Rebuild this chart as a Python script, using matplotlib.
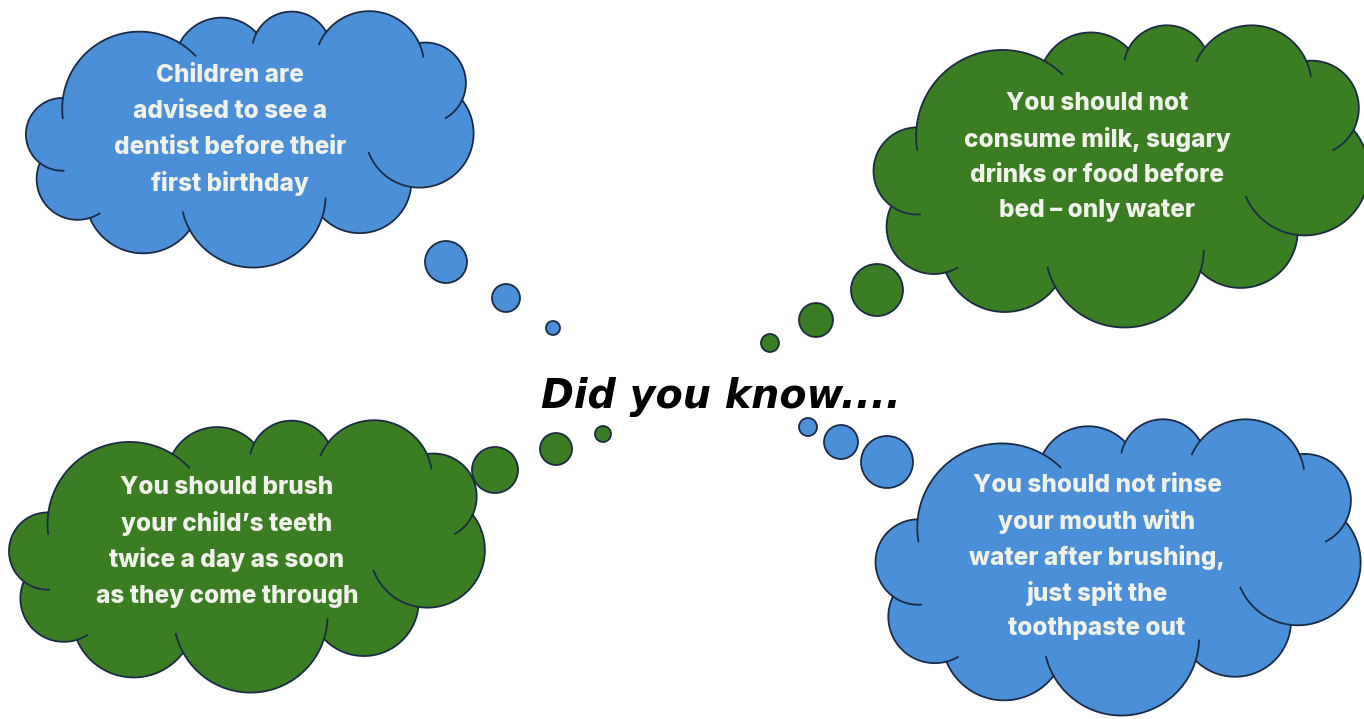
import numpy as np
import matplotlib
matplotlib.use("Agg")
import matplotlib.pyplot as plt
from matplotlib.patches import Polygon, Circle

W, H = 1364, 719

blue = "#4a8fd8"
green = "#3a7d23"
edge = "#1b2b45"
text_col = "#f2f2ec"

# clouds (pixel box centre and half sizes)
cloud_x = [247, 1118, 244, 1115]
cloud_y = [139, 177, 556, 568]
cloud_hw = [222, 243, 236, 238]
cloud_hh = [129, 156, 137, 153]
cloud_colors = [blue, green, green, blue]
cloud_texts = [
    ["Children are", "advised to see a", "dentist before their", "first birthday"],
    ["You should not", "consume milk, sugary", "drinks or food before", "bed \u2013 only water"],
    ["You should brush", "your child\u2019s teeth", "twice a day as soon", "as they come through"],
    ["You should not rinse", "your mouth with", "water after brushing,", "just spit the", "toothpaste out"],
]
text_x = [230, 1097, 227, 1097]
text_y = [129, 157, 542, 557]
line_gap = 36

# thought bubbles
bubble_x = [446, 506, 553, 877, 816, 770, 495, 556, 603, 887, 841, 808]
bubble_y = [262, 298, 328, 290, 320, 343, 470, 449, 434, 462, 442, 427]
bubble_r = [21, 14, 7, 26, 17, 9, 23, 16, 8, 26, 17, 9]
bubble_colors = [blue] * 3 + [green] * 3 + [green] * 3 + [blue] * 3

title = "Did you know...."

# cloud outline template: cusp points (relative to box) and bulge of each bump
cusp_u = [-0.829, -0.303, 0.043, 0.357, 0.775, 0.969, 0.739, 0.339, -0.258, -0.708, -0.933]
cusp_v = [-0.318, -0.744, -0.822, -0.829, -0.744, -0.302, 0.372, 0.605, 0.705, 0.612, 0.186]
bulge = [0.27, 0.26, 0.30, 0.28, 0.30, 0.34, 0.32, 0.33, 0.29, 0.32, 0.36]
ext_start = [15, 0, 15, 15, 0, 0, 0, 15, 0, 15, 40]
ext_end = [15, 0, 0, 15, 35, 60, 0, 15, 0, 0, 0]


def bump_arc(p0, p1, k, centre, e0, e1, n=40):
    m = (p0 + p1) / 2
    d = p1 - p0
    c = np.hypot(d[0], d[1])
    nrm = np.array([-d[1], d[0]]) / c
    if np.dot(nrm, m - centre) < 0:
        nrm = -nrm
    s = k * c
    R = (c * c / 4 + s * s) / (2 * s)
    cc = m + nrm * (s - R)
    a0 = np.arctan2(p0[1] - cc[1], p0[0] - cc[0])
    a1 = np.arctan2(p1[1] - cc[1], p1[0] - cc[0])
    am = np.arctan2(nrm[1], nrm[0])
    sweep = (a1 - a0) % (2 * np.pi)
    if np.cos(a0 + sweep / 2 - am) < 0:
        sweep -= 2 * np.pi
    sg = np.sign(sweep)
    t = np.linspace(a0, a0 + sweep, n)
    main = np.c_[cc[0] + R * np.cos(t), cc[1] + R * np.sin(t)]
    exts = []
    if e0:
        t = np.linspace(a0 - sg * np.radians(e0), a0, 12)
        exts.append(np.c_[cc[0] + R * np.cos(t), cc[1] + R * np.sin(t)])
    if e1:
        t = np.linspace(a0 + sweep, a0 + sweep + sg * np.radians(e1), 12)
        exts.append(np.c_[cc[0] + R * np.cos(t), cc[1] + R * np.sin(t)])
    return main, exts


def draw_cloud(ax, cx, cy, hw, hh, color):
    centre = np.array([cx, cy])
    pts = [np.array([cx + u * hw, cy + v * hh]) for u, v in zip(cusp_u, cusp_v)]
    outline = []
    extras = []
    for i in range(len(pts)):
        main, exts = bump_arc(pts[i], pts[(i + 1) % len(pts)], bulge[i], centre,
                              ext_start[i], ext_end[i])
        outline.append(main)
        extras += exts
    ax.add_patch(Polygon(np.vstack(outline), closed=True, facecolor=color,
                         edgecolor=edge, linewidth=1.3, zorder=2))
    for e in extras:
        ax.plot(e[:, 0], e[:, 1], color=edge, linewidth=1.3, zorder=3)


fig = plt.figure(figsize=(W / 100, H / 100), dpi=100)
ax = fig.add_axes([0, 0, 1, 1])
ax.set_xlim(0, W)
ax.set_ylim(H, 0)
ax.axis("off")

for i in range(len(cloud_x)):
    draw_cloud(ax, cloud_x[i], cloud_y[i], cloud_hw[i], cloud_hh[i], cloud_colors[i])
    lines = cloud_texts[i]
    y0 = text_y[i] - line_gap * (len(lines) - 1) / 2
    for j, line in enumerate(lines):
        ax.text(text_x[i], y0 + j * line_gap, line, ha="center", va="center",
                fontsize=17.5, fontweight=800, family="Inter", color=text_col, zorder=4)

for x, y, r, c in zip(bubble_x, bubble_y, bubble_r, bubble_colors):
    ax.add_patch(Circle((x, y), r, facecolor=c, edgecolor=edge, linewidth=1.3, zorder=2))

ax.text(721, 408, title, ha="center", va="baseline", fontsize=28.5,
        fontweight="bold", style="italic", family="DejaVu Sans", color="black")

fig.savefig("out.png", dpi=100)
